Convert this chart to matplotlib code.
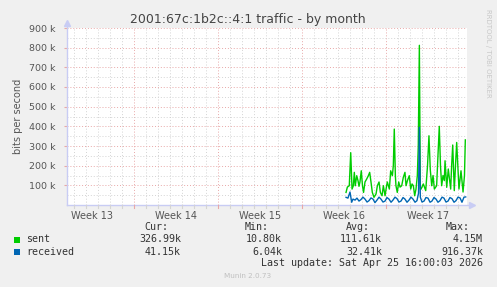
import matplotlib
matplotlib.use("Agg")
import matplotlib.pyplot as plt
from matplotlib.patches import Rectangle

# data: x = days since start of Week 13, values in bits per second
sent_days = [24.67, 24.78, 24.94, 25.06, 25.17, 25.28, 25.36, 25.44, 25.56, 25.67,
             25.75, 25.83, 25.94, 26.04, 26.13, 26.25, 26.39, 26.53, 26.64, 26.75,
             26.86, 27.00, 27.17, 27.28, 27.42, 27.53, 27.67, 27.78, 27.92, 28.03,
             28.11, 28.28, 28.39, 28.53, 28.61, 28.69, 28.78, 28.83, 28.94, 29.06,
             29.17, 29.31, 29.44, 29.58, 29.67, 29.78, 29.94, 30.06, 30.17, 30.28,
             30.39, 30.50, 30.61, 30.69, 30.78, 30.86, 30.92, 31.11, 31.31, 31.46,
             31.58, 31.69, 31.81, 31.92, 32.03, 32.22, 32.33, 32.44, 32.54, 32.64,
             32.75, 32.86, 32.92, 33.06, 33.19, 33.39, 33.47, 33.56, 33.69, 33.79,
             33.89, 34.08, 34.25, 34.42, 34.54, 34.61]
sent_k = [64, 91, 98, 266, 81, 98, 166, 98, 149, 123,
          95, 117, 174, 98, 64, 117, 132, 149, 166, 117,
          64, 39, 56, 98, 117, 64, 47, 98, 47, 90,
          117, 81, 174, 149, 200, 386, 150, 98, 64, 117,
          91, 98, 140, 166, 98, 123, 149, 81, 107, 98,
          47, 81, 149, 300, 812, 81, 81, 107, 73, 200,
          352, 180, 98, 150, 81, 98, 250, 400, 200, 98,
          150, 124, 225, 90, 183, 81, 200, 305, 73, 200,
          318, 81, 174, 66, 150, 331]

recv_days = [24.67, 24.83, 25.00, 25.14, 25.25, 25.42, 25.58, 25.75, 25.92, 26.08,
             26.25, 26.42, 26.58, 26.75, 26.92, 27.08, 27.25, 27.42, 27.58, 27.75,
             27.92, 28.08, 28.25, 28.42, 28.58, 28.75, 28.92, 29.08, 29.25, 29.42,
             29.58, 29.75, 29.92, 30.08, 30.25, 30.42, 30.58, 30.71, 30.78, 30.86,
             31.00, 31.17, 31.33, 31.50, 31.67, 31.83, 32.00, 32.17, 32.33, 32.50,
             32.67, 32.83, 33.00, 33.17, 33.33, 33.50, 33.67, 33.83, 34.00, 34.17,
             34.33, 34.50, 34.64]
recv_k = [39, 35, 66, 14, 30, 25, 35, 20, 28, 40,
          30, 15, 22, 36, 30, 12, 25, 40, 30, 15,
          20, 38, 30, 14, 25, 40, 32, 15, 20, 38,
          30, 14, 25, 40, 30, 14, 22, 60, 395, 40,
          15, 20, 38, 35, 14, 20, 38, 30, 14, 22,
          40, 35, 15, 20, 38, 32, 14, 22, 40, 36,
          14, 40, 41]

week_labels = ["Week 13", "Week 14", "Week 15", "Week 16", "Week 17"]
week_starts = [0, 7, 14, 21, 28, 35]
y_ticks = [100000, 200000, 300000, 400000, 500000, 600000, 700000, 800000, 900000]
y_labels = ["100 k", "200 k", "300 k", "400 k", "500 k", "600 k", "700 k", "800 k", "900 k"]

legend_names = ["sent", "received"]
legend_colors = ["#00cc00", "#0066b3"]
cur_vals = ["326.99k", "41.15k"]
min_vals = ["10.80k", "6.04k"]
avg_vals = ["111.61k", "32.41k"]
max_vals = ["4.15M", "916.37k"]

W, H = 497, 287
fig = plt.figure(figsize=(W / 100, H / 100), dpi=100, facecolor="#f0f0f0")
ax = fig.add_axes([67 / W, (H - 205) / H, 400 / W, 177 / H])
ax.set_facecolor("white")

grid_minor = "#d4d4d4"
grid_major = "#e8a8a8"
axis_col = "#c8ccf4"
dots = (0, (1, 2))

ax.set_xlim(1.417, 34.75)
ax.set_ylim(0, 900000)

# grid
for d in range(2, 35):
    if d % 7:
        ax.axvline(d, color=grid_minor, lw=0.7, ls=dots, zorder=0)
for d in week_starts:
    ax.axvline(d, color=grid_major, lw=0.7, ls=dots, zorder=0)
for v in range(50000, 900001, 50000):
    ax.axhline(v, color=grid_major if v % 100000 == 0 else grid_minor,
               lw=0.7, ls=dots, zorder=0)

ax.plot(sent_days, [v * 1000 for v in sent_k], color=legend_colors[0], lw=1.0, zorder=3)
ax.plot(recv_days, [v * 1000 for v in recv_k], color=legend_colors[1], lw=1.0, zorder=4)

ax.set_yticks(y_ticks, y_labels)
ax.set_xticks([s + 3.5 for s in week_starts[:5]], week_labels)
ax.tick_params(axis="y", length=2, color=grid_major, labelsize=6.8, labelcolor="#555555", pad=6)
ax.tick_params(axis="x", length=0, labelsize=7, labelcolor="#555555", pad=4)
for s in ax.spines.values():
    s.set_visible(False)

# axis lines with arrows
ax.plot([0, 0], [0, 1.03], transform=ax.transAxes, color=axis_col, lw=1, clip_on=False)
ax.plot([0, 1.012], [0, 0], transform=ax.transAxes, color=axis_col, lw=1, clip_on=False)
ax.plot([0], [1.03], marker="^", ms=4, color=axis_col, transform=ax.transAxes, clip_on=False)
ax.plot([1.012], [0], marker=">", ms=4, color=axis_col, transform=ax.transAxes, clip_on=False)
# small ticks below the x axis
for d in range(2, 35):
    ax.plot([d, d], [0, -2.5 / 177], color=grid_major if d % 7 == 0 else grid_minor,
            lw=0.8, transform=ax.get_xaxis_transform(), clip_on=False)

def fx(x):
    return x / W

def fy(y):
    return 1 - y / H

fig.text(fx(248), fy(19), "2001:67c:1b2c::4:1 traffic - by month", ha="center", va="center",
         fontsize=9, color="#444444")
fig.text(fx(18), fy(116), "bits per second", rotation=90, ha="center", va="center",
         fontsize=7, color="#555555")
fig.text(fx(488), fy(53), "RRDTOOL / TOBI OETIKER", rotation=270, ha="center", va="center",
         fontsize=5, color="#c8c8c8")

mono = "DejaVu Sans Mono"
fs = 7.2
tc = "#333333"
for x, h in zip([168, 269, 370, 470], ["Cur:", "Min:", "Avg:", "Max:"]):
    fig.text(fx(x), fy(227), h, ha="right", va="center", family=mono, fontsize=fs, color=tc)
for i, ry in enumerate([239.5, 251.8]):
    fig.patches.append(Rectangle((fx(14), fy(ry + 3)), 6 / W, 6 / H, transform=fig.transFigure,
                                 facecolor=legend_colors[i], edgecolor="none"))
    fig.text(fx(26.5), fy(ry), legend_names[i], ha="left", va="center", family=mono,
             fontsize=fs, color=tc)
    for x, vals in zip([181, 282, 382, 483], [cur_vals, min_vals, avg_vals, max_vals]):
        fig.text(fx(x), fy(ry), vals[i], ha="right", va="center", family=mono,
                 fontsize=fs, color=tc)
fig.text(fx(483), fy(263.5), "Last update: Sat Apr 25 16:00:03 2026", ha="right", va="center",
         family=mono, fontsize=fs, color=tc)
fig.text(fx(248), fy(276), "Munin 2.0.73", ha="center", va="center", fontsize=5.2, color="#c0c0c0")

fig.savefig("out.png", dpi=100, facecolor=fig.get_facecolor())
